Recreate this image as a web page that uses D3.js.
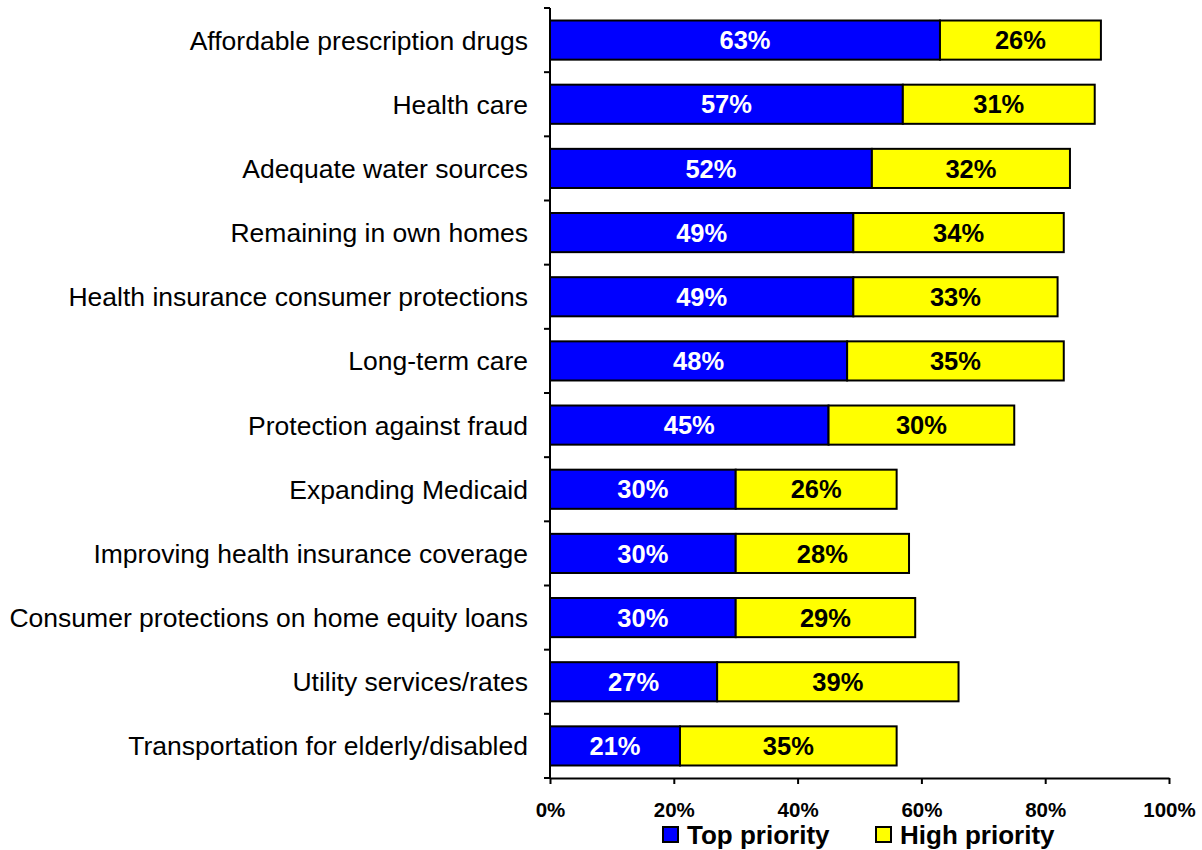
<!DOCTYPE html>
<html><head><meta charset="utf-8">
<script src="https://cdn.jsdelivr.net/npm/d3@7"></script>
<style>body{margin:0;background:#fff}svg{display:block}</style>
</head><body>
<svg id="c" width="1202" height="850"></svg>
<script>
const categories = ["Affordable prescription drugs","Health care","Adequate water sources","Remaining in own homes","Health insurance consumer protections","Long-term care","Protection against fraud","Expanding Medicaid","Improving health insurance coverage","Consumer protections on home equity loans","Utility services/rates","Transportation for elderly/disabled"];
const topPriority = [63,57,52,49,49,48,45,30,30,30,27,21];
const highPriority = [26,31,32,34,33,35,30,26,28,29,39,35];
const tickValues = [0,20,40,60,80,100];
const seriesNames = ["Top priority","High priority"];
const colors = ["#0000FF","#FFFF00"];

const svg = d3.select("#c");
const x = d3.scaleLinear().domain([0,100]).range([550,1169]);
const y = d3.scaleBand().domain(categories).range([8,778]).paddingInner(0.39).paddingOuter(0.195);
const font = "Arial, 'Liberation Sans', sans-serif";

const rows = categories.map((c,i)=>({c, t:topPriority[i], h:highPriority[i]}));
const g = svg.append("g");
rows.forEach(d=>{
  const segs = [{x0:0,x1:d.t,v:d.t,col:colors[0],tc:"#fff"},{x0:d.t,x1:d.t+d.h,v:d.h,col:colors[1],tc:"#000"}];
  segs.forEach(s=>{
    g.append("rect").attr("x",x(s.x0)).attr("y",y(d.c)).attr("width",x(s.x1)-x(s.x0)).attr("height",y.bandwidth())
      .attr("fill",s.col).attr("stroke","#000").attr("stroke-width",2);
    g.append("text").attr("x",(x(s.x0)+x(s.x1))/2).attr("y",y(d.c)+y.bandwidth()/2).attr("dy","0.36em")
      .attr("text-anchor","middle").attr("font-family",font).attr("font-weight","bold").attr("font-size",25.5)
      .attr("fill",s.tc).text(s.v+"%");
  });
});

// y axis
const yAxis = svg.append("g").attr("transform","translate(550,0)");
yAxis.append("line").attr("x1",0).attr("x2",0).attr("y1",8).attr("y2",778).attr("stroke","#000").attr("stroke-width",2);
const yTicks = d3.range(categories.length+1).map(i=>8+i*(770/categories.length));
yTicks.forEach(t=>yAxis.append("line").attr("x1",-6).attr("x2",0).attr("y1",t).attr("y2",t).attr("stroke","#000").attr("stroke-width",2));
categories.forEach(c=>svg.append("text").attr("x",528).attr("y",y(c)+y.bandwidth()/2).attr("dy","0.36em")
  .attr("text-anchor","end").attr("font-family",font).attr("font-size",26.5).attr("fill","#000").text(c));

// x axis
const xAxis = svg.append("g").attr("transform","translate(0,778)")
  .call(d3.axisBottom(x).tickValues(tickValues).tickFormat(d=>d+"%").tickSize(6).tickSizeOuter(0));
xAxis.select(".domain").attr("stroke","#000").attr("stroke-width",2);
xAxis.selectAll(".tick line").attr("stroke","#000").attr("stroke-width",2);
xAxis.selectAll(".tick text").attr("font-family",font).attr("font-weight","bold").attr("font-size",20.5).attr("fill","#000").attr("y",24);

// legend
const leg = svg.append("g");
const legX = [663,876];
seriesNames.forEach((n,i)=>{
  leg.append("rect").attr("x",legX[i]).attr("y",827).attr("width",15).attr("height",15).attr("fill",colors[i]).attr("stroke","#000").attr("stroke-width",2);
  leg.append("text").attr("x",legX[i]+24).attr("y",835).attr("dy","0.36em").attr("font-family",font).attr("font-weight","bold").attr("font-size",26).attr("fill","#000").text(n);
});
</script>
</body></html>
